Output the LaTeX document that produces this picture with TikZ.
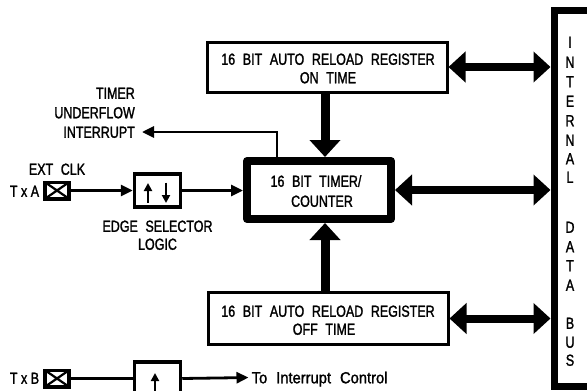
\documentclass[tikz,border=0pt]{standalone}
\usepackage{fontspec}
\setmainfont{Liberation Sans}[FakeStretch=0.78,WordSpace=2.2,FakeBold=1.5]
\newfontfamily\widefont{Liberation Sans}[FakeStretch=0.92,WordSpace=2.2,FakeBold=1.5]
\usetikzlibrary{arrows.meta,calc}
\begin{document}
\begin{tikzpicture}[x=1pt,y=-1pt,
  lbl/.style={font=\fontsize{16}{19}\selectfont, inner sep=0pt, text height=11.5pt, text depth=0pt},
  thinline/.style={line width=2.8pt},
  thinarrow/.style={thinline, -{Triangle[length=12pt,width=11pt]}},
  tinyarrow/.style={line width=2.7pt, -{Triangle[length=8pt,width=8pt]}},
  bigdouble/.style={line width=8pt, {Triangle[length=17pt,width=30pt]}-{Triangle[length=17pt,width=30pt]}},
  bigsingle/.style={line width=9pt, -{Triangle[length=17pt,width=30pt]}},
  regbox/.style={draw, line width=3pt, minimum width=240pt, inner sep=0pt},
  timerbox/.style={draw, line width=8pt, line join=round, minimum width=144pt, minimum height=58pt, inner sep=0pt},
  pinbox/.style={draw, line width=3.5pt, minimum width=24pt, minimum height=16.5pt, inner sep=0pt, outer sep=0pt},
  edgebox/.style={draw, line width=3.5pt, minimum width=46pt, minimum height=33pt, inner sep=0pt},
  busline/.style={line width=7pt, line join=miter}
]
\useasboundingbox (0,0) rectangle (587,391);

% boxes
\node[regbox, minimum height=50pt] (r1) at (327,67) {};
\node[regbox, minimum height=52pt] (r2) at (328,318.5) {};
\node[timerbox] (tm) at (319,190) {};
\node[pinbox] (pa) at (57,190.5) {};
\node[pinbox] (pb) at (57,378.5) {};
\node[edgebox] (es1) at (157.5,190.5) {};
\node[edgebox] (es2) at (157.5,378.5) {};

% texts
\node[lbl] (r1a) at (328,59) {16 BIT AUTO RELOAD REGISTER};
\node[lbl] (r1b) at (328,77.5) {ON TIME};
\node[lbl] (r2a) at (328,311) {16 BIT AUTO RELOAD REGISTER};
\node[lbl] (r2b) at (324,329) {OFF TIME};
\node[lbl] (tma) at (316,181) {16 BIT TIMER/};
\node[lbl] (tmb) at (322,201) {COUNTER};
\node[lbl, anchor=east] (tu1) at (135,93) {TIMER};
\node[lbl, anchor=east] (tu2) at (135,112.5) {UNDERFLOW};
\node[lbl, anchor=east] (intr) at (135,132) {INTERRUPT};
\node[lbl] (ext) at (57,169) {EXT CLK};
\node[lbl] (txa) at (24.5,191) {T\kern3.5pt x\kern3.5pt A};
\node[lbl] (txb) at (24.5,378) {T\kern3.5pt x\kern3.5pt B};
\node[lbl] (esl1) at (157.5,226) {EDGE SELECTOR};
\node[lbl] (esl2) at (157.5,244) {LOGIC};
\node[lbl, font=\fontsize{16}{19}\widefont, anchor=west] (ic) at (251.5,377.5) {To Interrupt Control};

% bus letters
\foreach \ch/\yy [count=\i] in {I/42,N/62,T/81.5,E/101,R/120.5,N/140,A/158.5,L/177,D/227,A/246.5,T/265.5,A/285,B/323,U/342,S/360}
  \node[lbl] (bus\i) at (570,\yy) {\ch};

% bus outline
\coordinate (btr) at (595,10);
\coordinate (btl) at (554,10);
\coordinate (bbl) at (554,386.5);
\coordinate (bbr) at (595,386.5);
\draw[busline] (btr) -- (btl) -- (bbl) -- (bbr);
\coordinate (bx) at (550.5,0);
\coordinate (sx) at (325,0);
\coordinate (ufx) at (277,0);

% thick arrows
\draw[bigdouble] (r1.east) -- (r1.east -| bx);
\draw[bigdouble] (tm.east) -- (tm.east -| bx);
\draw[bigdouble] (r2.east) -- (r2.east -| bx);
\draw[bigsingle] (r1.south -| sx) -- (tm.north -| sx);
\draw[bigsingle] (r2.north -| sx) -- (tm.south -| sx);

% thin connectors
\draw[thinarrow, shorten >=7pt] (tm.north -| ufx) |- (intr.east);
\draw[thinarrow] (pa.east) -- (es1.west);
\draw[thinarrow] (es1.east) -- (es1.east -| tm.west);
\draw[thinline] (pb.east) -- (es2.west);
\draw[thinarrow, shorten >=3pt] (es2.east) -- (ic.west);

% pin crosses
\draw[line width=2.2pt] (pa.north west) -- (pa.south east) (pa.north east) -- (pa.south west);
\draw[line width=2.2pt] (pb.north west) -- (pb.south east) (pb.north east) -- (pb.south west);

% edge symbols
\draw[tinyarrow] ($(es1.center)+(-9.5,12.5)$) -- ($(es1.center)+(-9.5,-7.5)$);
\draw[tinyarrow] ($(es1.center)+(8.5,-8)$) -- ($(es1.center)+(8.5,12.5)$);
\draw[tinyarrow] ($(es2.center)+(-2.5,20)$) -- ($(es2.center)+(-2.5,-5.5)$);
\end{tikzpicture}
\end{document}
